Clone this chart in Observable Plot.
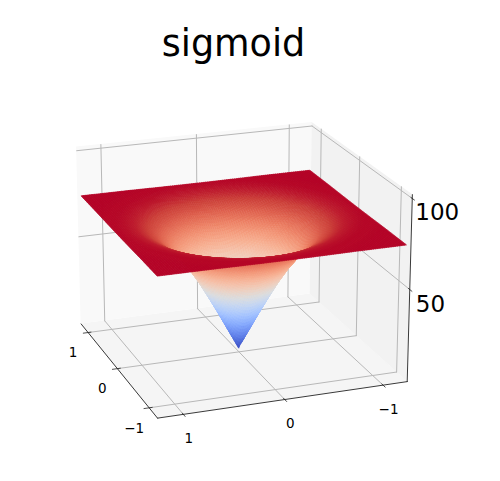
<!DOCTYPE html>
<html><head><meta charset="utf-8">
<style>html,body{margin:0;padding:0;background:#fff}svg{display:block}</style>
<script src="https://cdn.jsdelivr.net/npm/d3@7"></script>
<script src="https://cdn.jsdelivr.net/npm/@observablehq/plot@0.6"></script>
</head><body><script>
const titleText = "sigmoid";
const xyTicks = [-1, 0, 1];
const zTicks = [50, 100];
const xyLimit = 1.25, surfaceExtent = 1.22, zLimits = [-2.08, 102.08];
// radial profile of the surface
const profileR = [0, .1, .2, .3, .4, .5, .6, .7, .8, .9, 1, 1.1, 1.2, 1.4, 1.75];
const profileZ = [0, 10.5, 21, 31, 40.5, 49, 56, 62, 66.5, 69.8, 72, 73.2, 73.8, 74, 74];
const coolwarm = ["#3b4cc0","#4d68d7","#6282ea","#779af7","#8db0fe","#a3c2ff","#b8d0f9","#ccd9ee","#dddddd","#ecd3c5","#f5c4ad","#f7b194","#f49a7b","#ec7f63","#de604d","#cb3e38","#b40426"];
const gridCells = 110;

// matplotlib style camera
const elev = 20 * Math.PI / 180, azim = 160 * Math.PI / 180, dist = 10;
const boxX = 1.1431, boxZ = 0.8573, pxScale = 2256, cx = 238.5, cy = 261.8;
const w = [Math.cos(elev) * Math.cos(azim), Math.cos(elev) * Math.sin(azim), Math.sin(elev)];
const u = [-Math.sin(azim), Math.cos(azim), 0];
const v = [-Math.sin(elev) * Math.cos(azim), -Math.sin(elev) * Math.sin(azim), Math.cos(elev)];
const dot = (a, b) => a[0] * b[0] + a[1] * b[1] + a[2] * b[2];
function camera(x, y, z) {
  const p = [x / xyLimit * boxX / 2, y / xyLimit * boxX / 2,
    ((z - zLimits[0]) / (zLimits[1] - zLimits[0]) - .5) * boxZ];
  const depth = dist - dot(w, p);
  return {sx: cx + pxScale * dot(u, p) / depth, sy: cy - pxScale * dot(v, p) / depth, depth};
}
const P = (x, y, z) => { const c = camera(x, y, z); return {x: c.sx, y: c.sy}; };

// quads: two rows per quad, one id
function quadRows(id, a, b, c, d, extra) {
  return [
    {id, x1: a.x, y1: a.y, x2: b.x, y2: b.y, ...extra},
    {id, x1: d.x, y1: d.y, x2: c.x, y2: c.y, ...extra}
  ];
}
const L = xyLimit, Z0 = zLimits[0], Z1 = zLimits[1];
const panes = [
  ...quadRows("floor", P(L, L, Z0), P(L, -L, Z0), P(-L, -L, Z0), P(-L, L, Z0), {fill: "#f5f5f5"}),
  ...quadRows("backX", P(L, L, Z0), P(L, -L, Z0), P(L, -L, Z1), P(L, L, Z1), {fill: "#f9f9f9"}),
  ...quadRows("backY", P(L, -L, Z0), P(-L, -L, Z0), P(-L, -L, Z1), P(L, -L, Z1), {fill: "#f2f2f2"})
];

// surface
const zOfR = d3.scaleLinear(profileR, profileZ).clamp(true);
const surfZ = (x, y) => zOfR(Math.hypot(x, y));
const zMax = d3.max(profileZ);
const cells = [];
const E = surfaceExtent, step = 2 * E / gridCells;
for (let i = 0; i < gridCells; i++) for (let j = 0; j < gridCells; j++) {
  const x0 = -E + i * step, x1 = x0 + step, y0 = -E + j * step, y1 = y0 + step;
  const xm = (x0 + x1) / 2, ym = (y0 + y1) / 2;
  const z00 = surfZ(x0, y0), z10 = surfZ(x1, y0), z11 = surfZ(x1, y1), z01 = surfZ(x0, y1);
  const zm = (z00 + z10 + z11 + z01) / 4;
  cells.push({depth: camera(xm, ym, zm).depth, zm, a: P(x0, y0, z00), b: P(x1, y0, z10), c: P(x1, y1, z11), d: P(x0, y1, z01), id: i * 1000 + j});
}
cells.sort((p, q) => q.depth - p.depth);
const surfaceRows = cells.flatMap(c => quadRows(c.id, c.a, c.b, c.c, c.d, {z: c.zm}));

// grid lines
const seg = (id, a, b) => [{id, ...a}, {id, ...b}];
const gridRows = [
  ...xyTicks.flatMap(t => [
    ...seg("fx" + t, P(t, L, Z0), P(t, -L, Z0)),
    ...seg("fy" + t, P(L, t, Z0), P(-L, t, Z0)),
    ...seg("wy" + t, P(L, t, Z0), P(L, t, Z1)),
    ...seg("wx" + t, P(t, -L, Z0), P(t, -L, Z1))
  ]),
  ...zTicks.flatMap(t => [
    ...seg("zx" + t, P(L, L, t), P(L, -L, t)),
    ...seg("zy" + t, P(L, -L, t), P(-L, -L, t))
  ])
];
const axisRows = [
  ...seg("ax", P(-L, L, Z0), P(L, L, Z0)),
  ...seg("ay", P(-L, L, Z0), P(-L, -L, Z0)),
  ...seg("az", P(-L, -L, Z0), P(-L, -L, Z1))
];
const tickRows = [
  ...xyTicks.flatMap(t => [
    ...seg("tx" + t, P(t, L - .03, Z0), P(t, L + .05, Z0)),
    ...seg("ty" + t, P(-L + .03, t, Z0), P(-L - .05, t, Z0))
  ]),
  ...zTicks.flatMap(t => seg("tz" + t, P(-L + .03, -L, t), P(-L - .05, -L, t)))
];
const fmt = t => String(t).replace("-", "\u2212");
const xLabels = xyTicks.map(t => ({...P(t, L, Z0), label: fmt(t)}));
const yLabels = xyTicks.map(t => ({...P(-L, t, Z0), label: fmt(t)}));
const zLabels = zTicks.map(t => ({...P(-L, -L, t), label: fmt(t)}));

const font = "DejaVu Sans";
const chart = Plot.plot({
  width: 500, height: 481, margin: 0,
  x: {domain: [0, 500], range: [0, 500], axis: null},
  y: {domain: [0, 481], range: [0, 481], axis: null},
  color: {type: "linear", domain: coolwarm.map((_, i) => zMax * i / (coolwarm.length - 1)), range: coolwarm, interpolate: "rgb"},
  style: {background: "#fff"},
  marks: [
    Plot.area(panes, {x1: "x1", y1: "y1", x2: "x2", y2: "y2", z: "id", fill: d => d.fill, curve: "linear"}),
    Plot.line(gridRows, {x: "x", y: "y", z: "id", stroke: "#b8b8b8", strokeWidth: 1}),
    Plot.area(surfaceRows, {x1: "x1", y1: "y1", x2: "x2", y2: "y2", z: "id", fill: "z", stroke: "z", strokeWidth: 0.6}),
    Plot.line(axisRows, {x: "x", y: "y", z: "id", stroke: "#222", strokeWidth: 0.9}),
    Plot.line(tickRows, {x: "x", y: "y", z: "id", stroke: "#222", strokeWidth: 0.8}),
    Plot.text(xLabels, {x: "x", y: "y", text: "label", dx: -15, dy: 20.5, fontSize: 13.5, fontFamily: font, fill: "#000"}),
    Plot.text(yLabels, {x: "x", y: "y", text: "label", dx: 5.5, dy: 24.5, fontSize: 13.5, fontFamily: font, fill: "#000"}),
    Plot.text(zLabels.filter(d => d.label === "100"), {x: "x", y: "y", text: "label", dx: 3, dy: 14, textAnchor: "start", fontSize: 23, fontFamily: font, fill: "#000"}),
    Plot.text(zLabels.filter(d => d.label === "50"), {x: "x", y: "y", text: "label", dx: 6, dy: 15, textAnchor: "start", fontSize: 23, fontFamily: font, fill: "#000"}),
    Plot.text([titleText], {frameAnchor: "top", dx: -17, dy: 30, fontSize: 36.5, fontFamily: font, fill: "#000"})
  ]
});
document.body.appendChild(chart);
</script></body></html>
